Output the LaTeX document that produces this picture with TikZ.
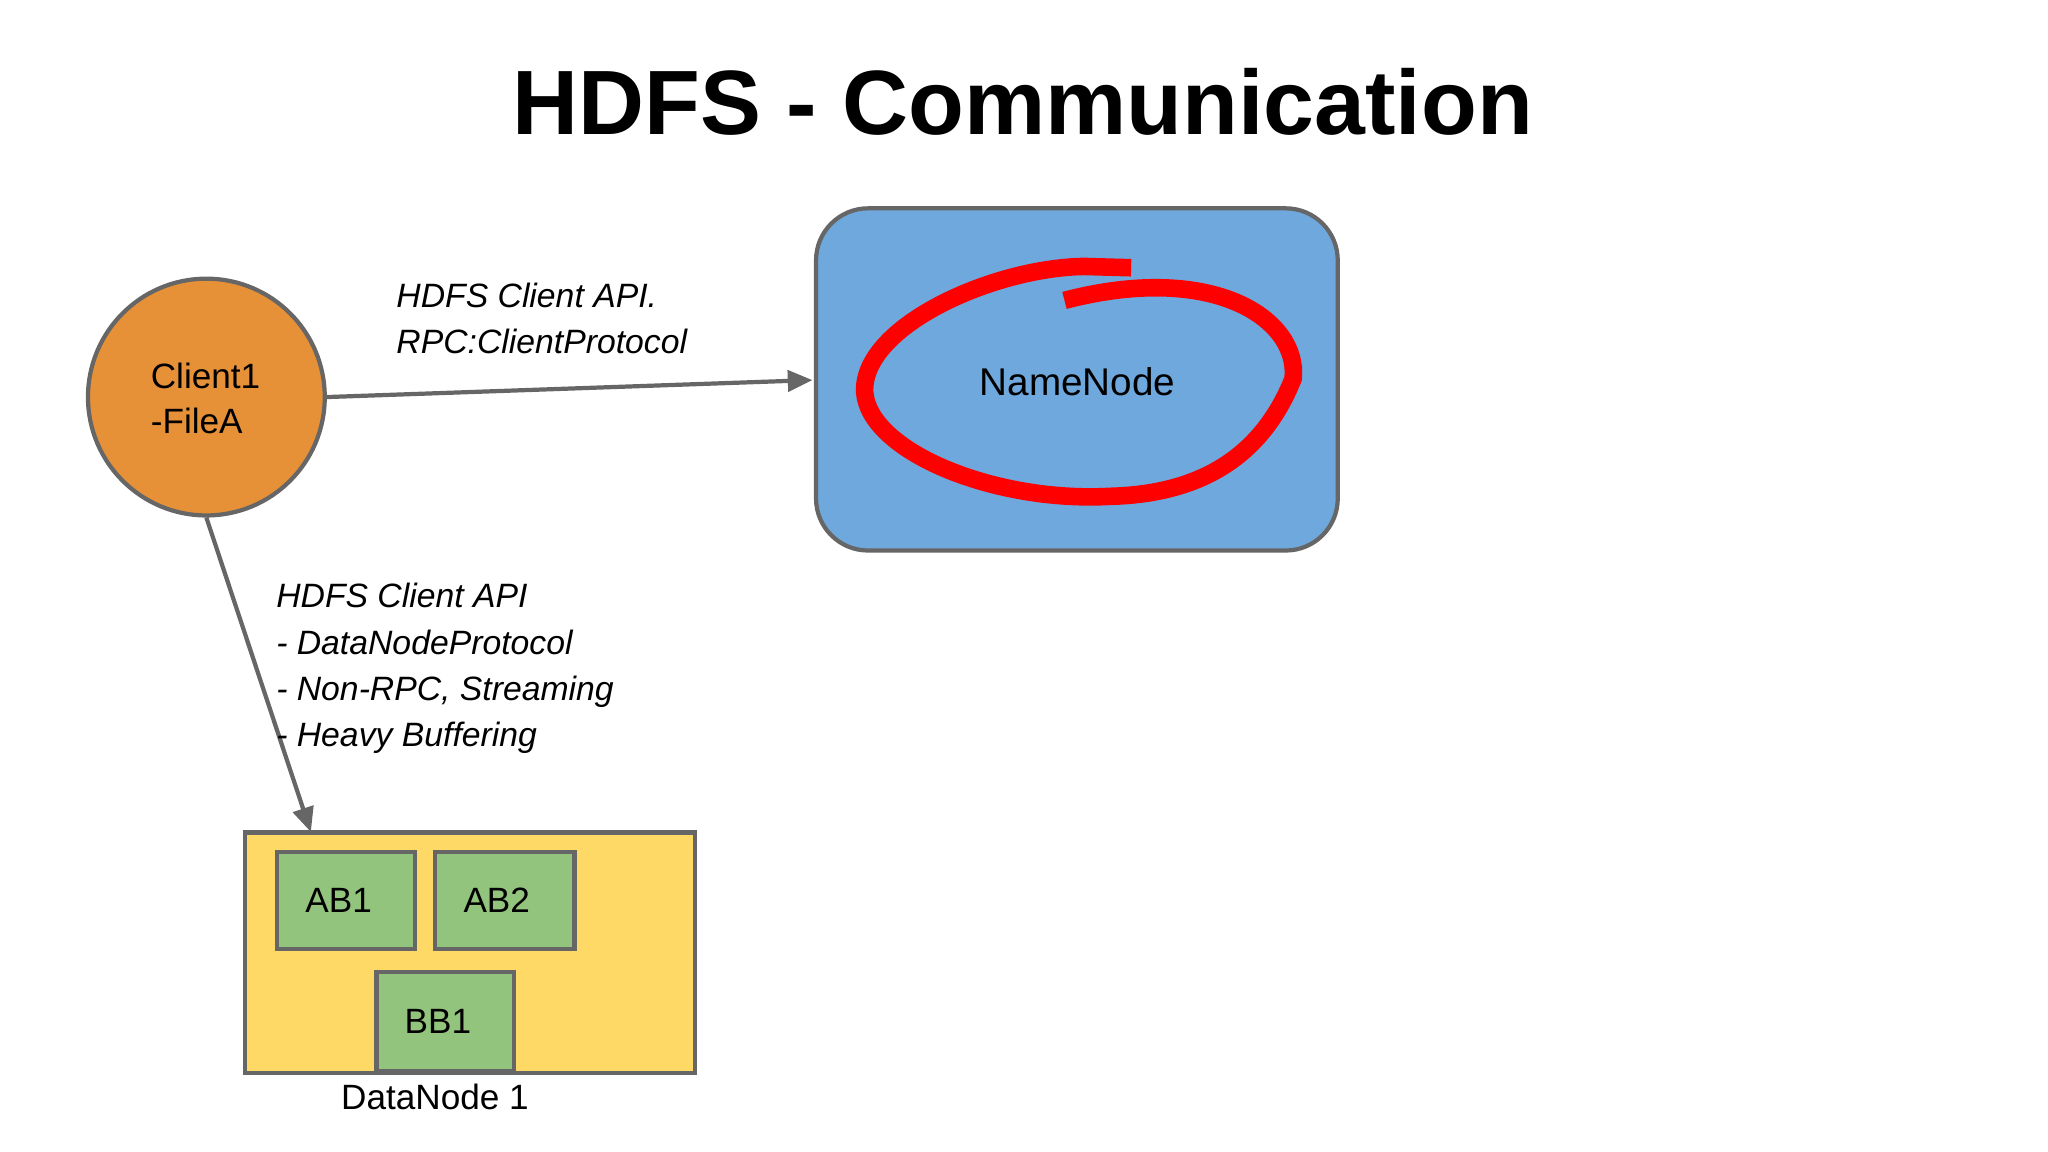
\documentclass[tikz,border=0pt]{standalone}
\usepackage{fontspec}
\setmainfont{Liberation Sans}
\usetikzlibrary{arrows.meta}
\begin{document}
\begin{tikzpicture}[x=0.013061cm,y=-0.013061cm,
  lbl/.style={font=\fontsize{10}{13}\selectfont},
  ital/.style={font=\fontsize{9.6}{13.2}\selectfont\itshape,align=left},
  conn/.style={draw=black!60,line width=1.2pt,-{Triangle[length=7pt,width=6pt]}},
  blk/.style={draw=black!60,line width=1.2pt,fill=blockgreen,inner sep=0pt}]
\definecolor{blockgreen}{HTML}{93C47D}
\definecolor{orng}{HTML}{E69138}
\definecolor{nblue}{HTML}{6FA8DC}
\definecolor{dyel}{HTML}{FFD966}
\def\u{0.3702pt}
\useasboundingbox (0,0) rectangle (1568,882);
\node[font=\fontsize{26}{30}\selectfont\bfseries] (title) at (783,78) {HDFS - Communication};
\node[circle,draw=black!60,line width=1.2pt,fill=orng,inner sep=0pt,minimum size={182*\u}] (client) at (158,304) {};
\node[lbl,align=left,anchor=west] (ctext) at (106,305) {Client1\\-FileA};
\node[draw=black!60,line width=1.2pt,fill=nblue,rounded corners={40*\u},inner sep=0pt,minimum width={401*\u},minimum height={263*\u}] (nn) at (824.5,290.5) {};
\node[font=\fontsize{11}{14}\selectfont] (nnt) at (825,292) {NameNode};
\draw[red,line width=5pt] (866,205) -- (830,204) .. controls (760,205) and (660,250) .. (662,300)
  .. controls (665,345) and (760,385) .. (850,380) .. controls (930,378) and (970,340) .. (990,290)
  .. controls (995,245) and (930,200) .. (815,230);
\node[draw=black!60,line width=1.2pt,fill=dyel,inner sep=0pt,minimum width={346*\u},minimum height={185*\u}] (dn) at (360,729.5) {};
\node[blk,minimum width={106*\u},minimum height={75*\u}] (ab1) at (265,689.5) {};
\node[lbl,anchor=west] at (ab1.west) [xshift=0.18cm] {AB1};
\node[blk,minimum width={107*\u},minimum height={75*\u}] (ab2) at (386.5,689.5) {};
\node[lbl,anchor=west] at (ab2.west) [xshift=0.18cm] {AB2};
\node[blk,minimum width={106*\u},minimum height={76*\u}] (bb1) at (341,782) {};
\node[lbl,anchor=west] at (bb1.west) [xshift=0.18cm] {BB1};
\node[lbl] (dnl) at (333,840) {DataNode 1};
\coordinate (dntop) at (238,637);
\draw[conn] (client.east) -- (622,291);
\draw[conn] (client.south) -- (dntop);
\node[ital,anchor=north west,inner sep=0pt] (l1) at (303,216) {HDFS Client API.\\RPC:ClientProtocol};
\node[ital,anchor=north west,inner sep=0pt] (l2) at (211,446) {HDFS Client API\\- DataNodeProtocol\\- Non-RPC, Streaming\\- Heavy Buffering};
\end{tikzpicture}
\end{document}
